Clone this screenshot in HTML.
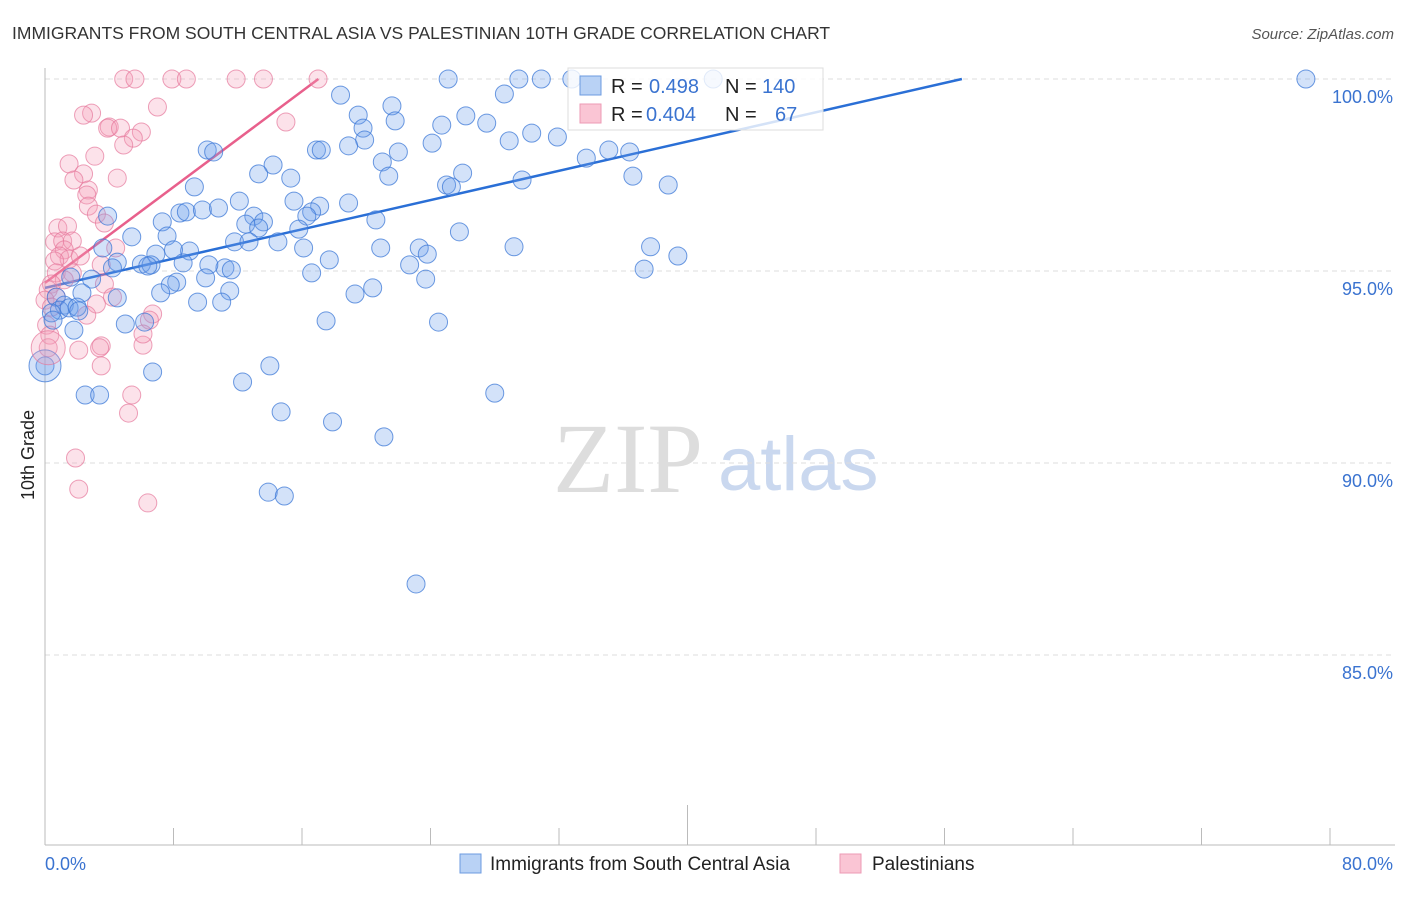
<!DOCTYPE html>
<html><head><meta charset="utf-8"><style>
body{margin:0;background:#fff;font-family:"Liberation Sans",sans-serif;}
</style></head><body>
<svg id="chart" width="1406" height="892" xmlns="http://www.w3.org/2000/svg" font-family="Liberation Sans, sans-serif">
<text x="12" y="39" font-size="17.5" fill="#333">IMMIGRANTS FROM SOUTH CENTRAL ASIA VS PALESTINIAN 10TH GRADE CORRELATION CHART</text>
<text x="1394" y="39" font-size="15" fill="#555" font-style="italic" text-anchor="end">Source: ZipAtlas.com</text>
<text transform="translate(34,455) rotate(-90)" font-size="18" fill="#222" text-anchor="middle">10th Grade</text>
<g><text x="553" y="492" font-size="100" fill="#ddd" style="font-family:'Liberation Serif',serif">ZIP</text><text x="718" y="490" font-size="76" fill="#cad8ef">atlas</text></g>
<g id="grid"></g><g id="axes"></g><g id="trend"></g><g id="pts"></g>
<g>
<rect x="568" y="68" width="255" height="62" fill="#fff" fill-opacity="0.8" stroke="#ddd"/>
<rect x="580" y="76" width="21" height="19" fill="#b9d2f5" stroke="#6c9be0"/>
<rect x="580" y="104" width="21" height="19" fill="#fac5d4" stroke="#ec9ab4"/>
<text y="93" font-size="20" fill="#222"><tspan x="611">R =</tspan><tspan x="649" fill="#3a73d0">0.498</tspan><tspan x="725">N =</tspan><tspan x="762" fill="#3a73d0">140</tspan></text>
<text y="121" font-size="20" fill="#222"><tspan x="611">R =</tspan><tspan x="646" fill="#3a73d0">0.404</tspan><tspan x="725">N =</tspan><tspan x="775" fill="#3a73d0">67</tspan></text>
</g>
<g>
<rect x="460" y="854" width="21" height="19" fill="#b9d2f5" stroke="#6c9be0"/>
<text x="490" y="870" font-size="19" fill="#222">Immigrants from South Central Asia</text>
<rect x="840" y="854" width="21" height="19" fill="#fac5d4" stroke="#ec9ab4"/>
<text x="872" y="870" font-size="19" fill="#222">Palestinians</text>
</g>
</svg>
<script>
const yTicks=[100,95,90,85];
const xTickLabels=["0.0%","80.0%"];
const blueX=[78.5,25.1,29.5,30.9,32.8,41.6,18.4,28.6,21.6,19.5,26.2,21.8,24.7,27.5,19.8,30.3,31.9,28.9,24.1,19.9,18.9,16.9,17.2,22.0,10.1,10.5,35.1,36.4,33.7,21.0,14.2,13.3,21.4,15.3,26.0,29.7,36.6,38.8,25.0,25.3,9.3,12.1,15.5,18.9,17.1,16.6,16.3,8.4,8.8,9.8,10.8,3.9,13.0,20.6,12.5,13.6,13.3,7.3,15.8,25.8,5.4,7.6,11.8,12.7,14.5,16.1,20.9,23.3,29.2,37.7,39.4,3.6,6.9,9.0,8.0,4.5,6.0,6.6,8.6,4.2,6.4,17.7,11.2,11.6,10.2,23.8,22.7,37.3,16.6,1.6,2.9,10.0,8.2,7.8,23.7,7.2,11.5,20.4,19.3,2.3,0.7,4.5,9.5,11.0,1.2,0.9,1.5,2.0,2.1,0.4,0.5,5.0,6.2,17.5,24.5,1.8,0.0,6.7,14.0,12.3,28.0,2.5,3.4,14.7,17.9,21.1,13.9,14.9,23.1];
const blueY=[100,100,100,100,100,100,99.58,99.61,99.30,99.06,99.04,98.91,98.80,98.85,98.72,98.59,98.49,98.39,98.33,98.41,98.26,98.15,98.15,98.10,98.15,98.10,98.15,98.10,97.94,97.84,97.76,97.53,97.47,97.42,97.55,97.37,97.47,97.24,97.24,97.19,97.19,96.82,96.82,96.77,96.69,96.54,96.43,96.51,96.54,96.59,96.64,96.43,96.43,96.33,96.22,96.28,96.12,96.28,96.09,96.02,95.89,95.91,95.76,95.76,95.76,95.60,95.60,95.60,95.63,95.63,95.39,95.60,95.44,95.52,95.55,95.23,95.18,95.16,95.21,95.08,95.13,95.29,95.08,95.03,95.16,95.44,95.16,95.05,94.95,94.84,94.79,94.82,94.71,94.64,94.79,94.43,94.48,94.56,94.40,94.43,94.32,94.30,94.19,94.19,94.11,93.98,94.04,94.06,93.96,93.91,93.72,93.62,93.67,93.70,93.67,93.46,92.53,92.37,92.53,92.11,91.82,91.77,91.77,91.33,91.07,90.68,89.24,89.14,86.85];
const pinkX=[4.9,5.6,7.9,8.8,11.9,13.6,17.0,7.0,2.9,2.4,4.0,3.9,4.7,6.0,5.5,4.9,15.0,3.1,1.5,4.5,2.4,1.8,2.7,2.6,2.7,3.2,0.8,1.4,3.7,0.6,1.1,1.7,1.2,0.9,1.5,2.2,4.4,0.6,0.7,1.7,1.2,3.5,0.4,0.2,0.7,3.7,4.2,0,0.4,3.2,6.7,6.5,2.6,0.1,0.3,3.5,3.4,6.1,6.1,0.2,2.1,3.5,5.4,5.2,1.9,2.1,6.4];
const pinkY=[100,100,100,100,100,100,100,99.27,99.11,99.06,98.75,98.72,98.72,98.62,98.46,98.28,98.88,97.99,97.79,97.42,97.53,97.37,97.11,96.98,96.69,96.48,96.12,96.17,96.25,95.76,95.78,95.78,95.55,95.39,95.31,95.39,95.60,95.26,94.95,94.95,94.77,95.16,94.66,94.51,94.32,94.66,94.32,94.24,94.06,94.14,93.88,93.72,93.85,93.59,93.33,93.05,93.00,93.07,93.36,93.00,92.94,92.53,91.77,91.30,90.13,89.32,88.96];
const blueBig=[[0.0,92.53]];
const pinkBig=[[0.2,93.0]];
const blueTrend=[94.56,0.0953];
const pinkTrend=[94.69,0.312];
const NS="http://www.w3.org/2000/svg";
const X=v=>45+v*(1330-45)/80;
const Y=v=>79+(100-v)*38.4;
function mk(tag,attrs,parent){const e=document.createElementNS(NS,tag);for(const k in attrs)e.setAttribute(k,attrs[k]);parent.appendChild(e);return e;}
const grid=document.getElementById('grid'),axes=document.getElementById('axes');
yTicks.forEach(t=>{
 const l=mk('line',{x1:45,x2:1395,y1:Y(t),y2:Y(t),stroke:'#ddd','stroke-dasharray':'5,4'},grid);
 
 
 const tx=mk('text',{x:1393,y:Y(t)+24,'font-size':18,fill:'#3a73d0','text-anchor':'end'},axes);
 tx.textContent=t.toFixed(1)+'%';
 
 
});
const yl=mk('line',{x1:45,x2:45,y1:68,y2:845,stroke:'#bbb'},axes);


const xl=mk('line',{x1:45,x2:1395,y1:845,y2:845,stroke:'#bbb'},axes);


for(let i=0;i<=10;i++){
 const v=i*8;
 const t=mk('line',{x1:X(v),x2:X(v),y1:i==5?805:828,y2:845,stroke:'#bbb'},axes);
 
 
}
[[0,'start'],[80,'end']].forEach((p,i)=>{
 const tx=mk('text',{x:i?1393:45,y:870,'font-size':18,fill:'#3a73d0','text-anchor':p[1]},axes);
 tx.textContent=xTickLabels[i];
 
 
});
const pts=document.getElementById('pts');
function dots(xs,ys,fill,stroke,name,r){
 xs.forEach((x,i)=>{
  const c=mk('circle',{cx:X(x),cy:Y(ys[i]),r:r,fill:fill,stroke:stroke,'stroke-width':1},pts);
  
  
 });
}
dots(pinkX,pinkY,'rgba(245,160,185,0.3)','rgba(230,120,155,0.7)','pink-point',9);
dots(blueX,blueY,'rgba(110,160,235,0.3)','rgba(60,120,215,0.75)','blue-point',9);
dots(blueBig.map(p=>p[0]),blueBig.map(p=>p[1]),'rgba(110,160,235,0.3)','rgba(60,120,215,0.75)','blue-point-large',16);
dots(pinkBig.map(p=>p[0]),pinkBig.map(p=>p[1]),'rgba(245,160,185,0.3)','rgba(230,120,155,0.7)','pink-point-large',17);
const tr=document.getElementById('trend');
const bEnd=(100-blueTrend[0])/blueTrend[1];
const bl=mk('line',{x1:X(0),y1:Y(blueTrend[0]),x2:X(bEnd),y2:Y(100),stroke:'#2a6fd6','stroke-width':2.5},tr);


const pEnd=(100-pinkTrend[0])/pinkTrend[1];
const pl=mk('line',{x1:X(0),y1:Y(pinkTrend[0]),x2:X(pEnd),y2:Y(100),stroke:'#e8608c','stroke-width':2.5},tr);


</script>
</body></html>
